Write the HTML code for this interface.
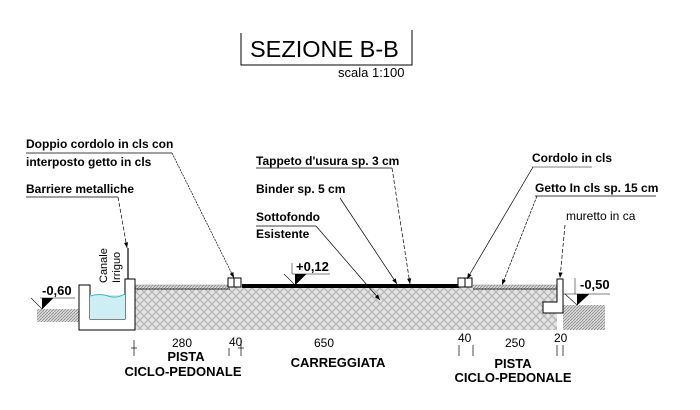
<!DOCTYPE html>
<html><head><style>body{margin:0;background:#fff}svg{display:block}text{font-family:"Liberation Sans",sans-serif;font-weight:bold;font-size:12px;fill:#000}</style></head>
<body>
<svg width="700" height="410" viewBox="0 0 700 410" xmlns="http://www.w3.org/2000/svg">
<defs>
<pattern id="h" width="8" height="8" patternUnits="userSpaceOnUse">
<rect width="8" height="8" fill="#e4e4e4"/>
<path d="M0 4L4 0L8 4L4 8Z" fill="none" stroke="#b5b5b5" stroke-width="1.3"/>
</pattern>
<pattern id="g" width="3" height="3" patternUnits="userSpaceOnUse">
<rect width="3" height="3" fill="#ddd"/><path d="M0 3L3 0" stroke="#888" stroke-width="0.8"/>
</pattern>
<marker id="a" markerWidth="8" markerHeight="6" refX="8" refY="3" orient="auto"><path d="M0 0L8 3L0 6Z" fill="#000"/></marker>
</defs>
<path d="M241 33V65H412V30" fill="none" stroke="#000" stroke-width="1"/>
<text x="250" y="57" style="font-weight:normal;font-size:23.5px">SEZIONE B-B</text>
<text x="338" y="77" style="font-weight:normal;font-size:13px">scala 1:100</text>
<rect x="135" y="287" width="422" height="43" fill="url(#h)"/>
<rect x="135" y="285" width="95" height="4" fill="url(#g)"/>
<rect x="473" y="285" width="84" height="4" fill="url(#g)"/>
<rect x="37" y="309" width="42" height="13" fill="url(#g)"/>
<rect x="563" y="305" width="42" height="25" fill="url(#g)"/>
<rect x="242" y="284" width="217" height="4" fill="#000"/>
<line x1="135" y1="289" x2="230" y2="289" stroke="#000" stroke-width="0.7"/>
<line x1="473" y1="289" x2="557" y2="289" stroke="#000" stroke-width="0.7"/>
<line x1="135" y1="285" x2="230" y2="285" stroke="#888" stroke-width="0.5"/>
<line x1="473" y1="285" x2="557" y2="285" stroke="#888" stroke-width="0.5"/>
<rect x="228" y="278" width="13" height="9" fill="#fff" stroke="#000"/><line x1="234" y1="278" x2="234" y2="287" stroke="#000"/>
<rect x="458" y="278" width="14" height="9" fill="#fff" stroke="#000"/><line x1="465" y1="278" x2="465" y2="287" stroke="#000"/>
<path d="M79 285H90V319H125V279H135V330H79Z" fill="#fff" stroke="#000" stroke-width="1"/>
<rect x="90" y="295" width="35" height="24" fill="#cdeff3"/>
<path d="M90 296Q100 293 108 296T125 294" stroke="#3bb8cc" stroke-width="1" fill="none"/>
<text transform="translate(107,283) rotate(-90)" style="font-size:11px;font-weight:normal">Canale</text>
<text transform="translate(120,283) rotate(-90)" style="font-size:11px;font-weight:normal">Irriguo</text>
<line x1="128" y1="248" x2="128" y2="279" stroke="#000" stroke-width="1.2"/>
<path d="M557 279H563V313H543V302H557Z" fill="#fff" stroke="#000" stroke-width="1"/>
<text x="42" y="295" style="font-size:13px">-0,60</text>
<line x1="40" y1="298" x2="75" y2="298" stroke="#000" stroke-width="0.6"/>
<path d="M31 298L42 309L53 298" fill="none" stroke="#000" stroke-width="0.6"/><path d="M42 309L53 298H42Z" fill="#000"/>
<text x="580" y="289" style="font-size:13px">-0,50</text>
<line x1="563" y1="294" x2="610" y2="294" stroke="#000" stroke-width="0.6"/>
<line x1="575" y1="278" x2="575" y2="294" stroke="#000" stroke-width="0.5"/>
<path d="M565 294L577 305L589 294" fill="none" stroke="#000" stroke-width="0.6"/><path d="M577 305L589 294H577Z" fill="#000"/>
<text x="296" y="271" style="font-size:13px">+0,12</text>
<line x1="292" y1="274" x2="330" y2="274" stroke="#000" stroke-width="0.6"/>
<line x1="292" y1="263" x2="292" y2="274" stroke="#000" stroke-width="0.5"/>
<path d="M284 274L295 285L306 274" fill="none" stroke="#000" stroke-width="0.6"/><path d="M295 285L306 274H295Z" fill="#000"/>
<text x="26" y="148">Doppio cordolo in cls con</text>
<text x="26" y="166">interposto getto in cls</text>
<line x1="26" y1="153" x2="172" y2="153" stroke="#000" stroke-width="0.8"/>
<line x1="172" y1="153" x2="234" y2="278" stroke="#000" stroke-width="0.7" stroke-dasharray="2,1" marker-end="url(#a)"/>
<text x="26" y="193">Barriere metalliche</text>
<line x1="26" y1="197" x2="118" y2="197" stroke="#000" stroke-width="0.8"/>
<line x1="118" y1="197" x2="127" y2="248" stroke="#000" stroke-width="0.7" stroke-dasharray="4,2" marker-end="url(#a)"/>
<text x="256" y="165">Tappeto d'usura sp. 3 cm</text>
<line x1="256" y1="168" x2="392" y2="168" stroke="#000" stroke-width="0.8"/>
<line x1="392" y1="168" x2="410" y2="284" stroke="#000" stroke-width="0.7" stroke-dasharray="4,2" marker-end="url(#a)"/>
<text x="256" y="193">Binder sp. 5 cm</text>
<line x1="340" y1="198" x2="397" y2="284" stroke="#000" stroke-width="0.7" marker-end="url(#a)"/>
<text x="256" y="221">Sottofondo</text>
<line x1="256" y1="226" x2="316" y2="226" stroke="#000" stroke-width="0.8"/>
<text x="256" y="238">Esistente</text>
<line x1="316" y1="226" x2="380" y2="300" stroke="#000" stroke-width="0.7" marker-end="url(#a)"/>
<text x="532" y="162">Cordolo in cls</text>
<line x1="532" y1="167" x2="592" y2="167" stroke="#000" stroke-width="0.5"/>
<line x1="533" y1="167" x2="467" y2="279" stroke="#000" stroke-width="0.7" marker-end="url(#a)"/>
<text x="535" y="192">Getto In cls sp. 15 cm</text>
<line x1="535" y1="196" x2="656" y2="196" stroke="#000" stroke-width="0.8"/>
<line x1="537" y1="196" x2="502" y2="285" stroke="#000" stroke-width="0.7" stroke-dasharray="3,1" marker-end="url(#a)"/>
<text x="566" y="220" style="font-weight:normal">muretto in ca</text>
<line x1="565" y1="225" x2="560" y2="278" stroke="#000" stroke-width="0.7" stroke-dasharray="4,2" marker-end="url(#a)"/>
<g stroke="#000" stroke-width="0.7">
<line x1="134" y1="340" x2="134" y2="356"/><line x1="131" y1="348" x2="137" y2="348"/>
<line x1="241" y1="340" x2="241" y2="356"/><line x1="238" y1="348" x2="244" y2="348"/>
<line x1="229" y1="348" x2="229" y2="356"/>
<line x1="459" y1="345" x2="459" y2="356"/><line x1="473" y1="345" x2="473" y2="356"/>
<line x1="557" y1="345" x2="557" y2="356"/><line x1="563" y1="345" x2="563" y2="356"/>
</g>
<text x="172" y="347" style="font-weight:normal;font-size:12px">280</text>
<text x="229" y="346" style="font-weight:normal;font-size:12px">40</text>
<text x="314" y="347" style="font-weight:normal;font-size:12px">650</text>
<text x="458" y="342" style="font-weight:normal;font-size:12px">40</text>
<text x="505" y="347" style="font-weight:normal;font-size:12px">250</text>
<text x="554" y="342" style="font-weight:normal;font-size:12px">20</text>
<text x="186" y="361" text-anchor="middle" style="font-size:13px">PISTA</text>
<text x="183" y="376" text-anchor="middle" style="font-size:13px">CICLO-PEDONALE</text>
<text x="338" y="367" text-anchor="middle" style="font-size:13px">CARREGGIATA</text>
<text x="513" y="368" text-anchor="middle" style="font-size:13px">PISTA</text>
<text x="513" y="382" text-anchor="middle" style="font-size:13px">CICLO-PEDONALE</text>
</svg>
</body></html>
